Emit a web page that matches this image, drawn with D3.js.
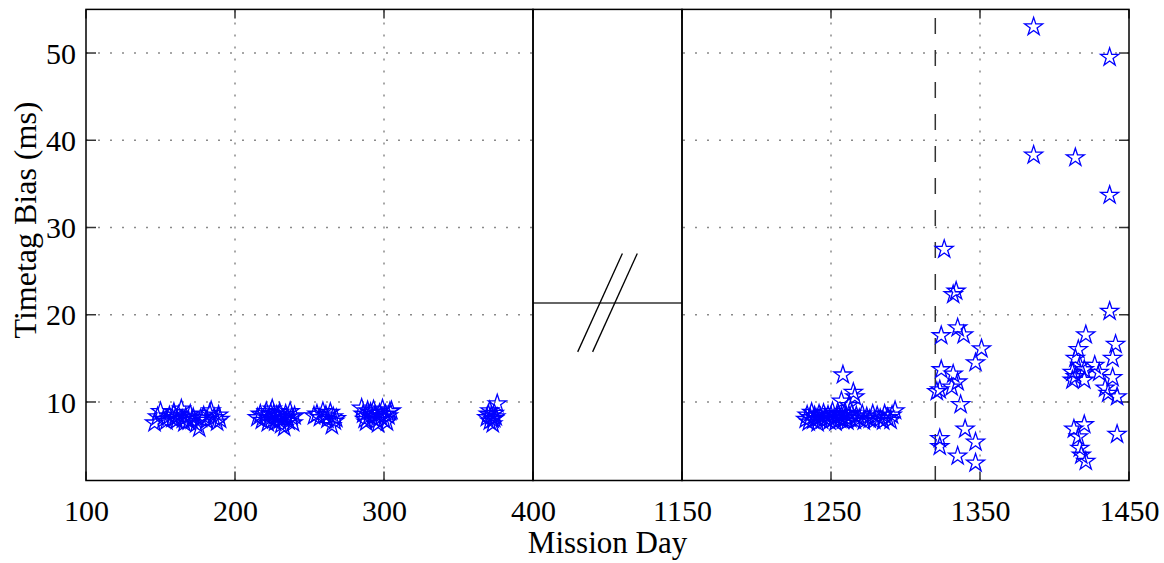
<!DOCTYPE html>
<html>
<head>
<meta charset="utf-8">
<script src="https://cdn.jsdelivr.net/npm/d3@7"></script>
<style>
  html, body { margin: 0; padding: 0; background: #fff; }
  svg text { font-family: "Liberation Serif", "Times New Roman", serif; fill: #000; }
</style>
</head>
<body>
<svg id="chart" width="1164" height="563"></svg>
<script>
// ---- data: [mission day, timetag bias (ms)] ----
const earlyDays = [
  [146,7.6],[148,8.3],[150,8.9],[152,8.0],[154,7.8],[156,8.4],[158,8.1],[159,8.8],[161,7.9],[162,8.5],
  [164,9.2],[165,8.0],[167,8.3],[169,7.8],[170,8.6],[172,8.2],[174,7.5],[176,7.0],[177,8.1],[179,8.4],
  [181,7.9],[183,8.7],[184,9.0],[186,8.2],[188,7.7],[190,8.0],[189,8.5],[171,7.9],[160,8.2],[166,7.6],
  [215,8.2],[217,8.6],[218,7.9],[220,8.4],[221,8.9],[222,7.6],[223,8.1],[224,8.7],[225,9.2],[226,8.0],
  [227,7.7],[228,8.5],[229,8.3],[230,8.8],[231,7.4],[232,8.1],[233,7.1],[234,8.6],[235,8.2],[236,7.8],
  [237,8.9],[238,8.3],[239,7.6],[240,8.4],[230,7.9],[226,8.6],
  [253,8.4],[255,8.6],[257,8.2],[259,8.9],[261,8.5],[262,8.0],[264,8.8],[265,7.3],[266,8.3],[267,7.8],[268,8.1],
  [285,9.3],[286,8.6],[287,8.0],[288,7.7],[289,9.0],[290,8.4],[291,8.8],[292,8.2],[293,9.1],[294,8.5],
  [295,7.9],[296,7.5],[297,8.7],[298,8.3],[299,9.2],[300,8.0],[301,8.6],[302,7.7],[303,8.4],[304,8.9],[305,9.0],
  [369,8.2],[370,8.6],[371,7.8],[372,8.4],[373,8.0],[374,8.7],[375,8.3],[371,9.0],[373,7.5],[376,9.8],[374,8.1]
];

const lateDays = [
  [1233,8.0],[1234,8.5],[1235,7.7],[1236,8.2],[1237,8.8],[1238,7.9],[1239,8.4],[1240,8.1],[1241,7.6],[1242,8.6],
  [1243,8.3],[1244,7.9],[1245,8.7],[1246,8.2],[1247,8.0],[1248,8.5],[1249,7.8],[1250,8.4],[1251,8.9],[1252,8.1],
  [1253,7.7],[1254,8.3],[1255,8.6],[1256,8.0],[1257,8.4],[1258,7.9],[1259,8.7],[1260,8.2],[1261,7.8],[1262,8.5],
  [1263,8.1],[1264,8.7],[1266,7.9],[1267,8.4],[1269,8.1],[1271,8.6],[1272,7.8],[1274,8.3],[1276,8.0],[1278,8.6],
  [1279,7.9],[1281,8.4],[1283,8.1],[1285,7.8],[1286,8.6],[1288,8.2],[1290,7.9],[1291,8.5],[1293,9.0],
  [1258,13.1],[1265,11.1],[1266,10.6],[1257,10.1],[1262,9.6],
  [1321,11.2],[1323,11.4],[1331,11.7],[1337,9.7],[1323,5.8],[1323,4.9],[1340,6.9],[1347,5.4],[1335,3.8],[1347,3.0],
  [1326,27.5],[1332,22.3],[1334,22.7],[1324,17.6],[1335,18.5],[1339,17.7],[1351,16.1],[1347,14.5],[1324,13.7],
  [1332,13.2],[1335,12.3],
  [1386,53.0],[1386,38.3],[1414,38.0],[1437,49.5],[1437,33.7],[1437,20.4],
  [1421,17.7],[1441,16.6],[1416,16.0],[1439,15.0],[1414,15.0],[1417,14.2],[1412,13.4],[1420,13.7],[1427,14.2],
  [1430,13.4],[1439,12.8],[1414,12.9],[1412,12.5],[1420,12.5],[1434,11.6],[1436,11.0],[1442,10.6],
  [1413,6.9],[1420,7.4],[1416,6.0],[1417,4.7],[1418,3.9],[1421,3.2],[1442,6.3]
];

const eventDay = 1320;                 // dashed marker
const leftTicks = [100, 200, 300, 400];
const rightTicks = [1150, 1250, 1350, 1450];
const yTicks = [10, 20, 30, 40, 50];
const yDomain = [1, 55];

// ---- layout ----
const svg = d3.select("#chart");
const plotTop = 9.4, plotBottom = 480.5;
const leftRange = [86, 533], midRange = [533, 682], rightRange = [682, 1129];

const xL = d3.scaleLinear().domain([100, 400]).range(leftRange);
const xR = d3.scaleLinear().domain([1150, 1450]).range(rightRange);
const xM = d3.scaleLinear().domain([0, 1]).range(midRange);
const y = d3.scaleLinear().domain(yDomain).range([plotBottom, plotTop]);
const yM = d3.scaleLinear().domain([0, 1]).range([plotBottom, plotTop]);

const gridStyle = g => g.attr("stroke", "#8a8a8a").attr("stroke-width", 1.5)
  .attr("stroke-dasharray", "2,10").attr("fill", "none");

function panel(x, xTicks, ySide) {
  const [x0, x1] = x.range();
  const g = svg.append("g");
  // grid
  const grid = g.append("g");
  xTicks.filter(t => t !== x.domain()[0] && t !== x.domain()[1]).forEach(t => {
    grid.append("line").attr("x1", x(t)).attr("x2", x(t)).attr("y1", plotBottom).attr("y2", plotTop).call(gridStyle);
  });
  yTicks.forEach(t => {
    const sx = ySide === "left" ? x0 : x1, ex = ySide === "left" ? x1 : x0;
    grid.append("line").attr("x1", sx).attr("x2", ex).attr("y1", y(t)).attr("y2", y(t)).call(gridStyle);
  });
  // inner tick marks
  const ticks = g.append("g").attr("stroke", "#333").attr("stroke-width", 1.5);
  xTicks.forEach(t => {
    ticks.append("line").attr("x1", x(t)).attr("x2", x(t)).attr("y1", plotBottom).attr("y2", plotBottom - 9);
    ticks.append("line").attr("x1", x(t)).attr("x2", x(t)).attr("y1", plotTop).attr("y2", plotTop + 9);
  });
  yTicks.forEach(t => {
    const ex = ySide === "left" ? x0 : x1, dir = ySide === "left" ? 1 : -1;
    ticks.append("line").attr("x1", ex).attr("x2", ex + dir * 10).attr("y1", y(t)).attr("y2", y(t));
  });
  // x tick labels via d3 axis
  const ax = d3.axisBottom(x).tickValues(xTicks).tickSize(0).tickPadding(0).tickFormat(d3.format("d"));
  const axg = g.append("g").attr("transform", `translate(0,${plotBottom})`).call(ax);
  axg.select(".domain").remove();
  axg.selectAll("text").attr("font-size", 30).attr("y", 40).attr("dy", 0)
    .style("font-family", '"Liberation Serif", serif').attr("fill", "#000");
  return g;
}

const gL = panel(xL, leftTicks, "left");
const gR = panel(xR, rightTicks, "right");

// y tick labels on the left panel
const ay = d3.axisLeft(y).tickValues(yTicks).tickSize(0).tickPadding(0).tickFormat(d3.format("d"));
const ayg = svg.append("g").attr("transform", `translate(${leftRange[0] - 10},0)`).call(ay);
ayg.select(".domain").remove();
ayg.selectAll("text").attr("font-size", 30).attr("dy", "0.34em")
  .style("font-family", '"Liberation Serif", serif').attr("fill", "#000");

// dashed event marker
gR.append("line")
  .attr("x1", xR(eventDay)).attr("x2", xR(eventDay))
  .attr("y1", plotTop).attr("y2", plotBottom)
  .attr("stroke", "#333").attr("stroke-width", 1.5)
  .attr("stroke-dasharray", "16,16").attr("stroke-dashoffset", 23.4);

// star markers
const star = d3.symbol().type(d3.symbolStar).size(101);
function stars(g, x, data) {
  g.append("g").selectAll("path").data(data).join("path")
    .attr("d", star)
    .attr("transform", d => `translate(${x(d[0])},${y(d[1])})`)
    .attr("fill", "none").attr("stroke", "#0000ff").attr("stroke-width", 1.3)
    .attr("stroke-linejoin", "miter");
}
stars(gL, xL, earlyDays);
stars(gR, xR, lateDays);

// axis break panel
const gM = svg.append("g").attr("stroke", "#000").attr("stroke-width", 1.5).attr("fill", "none");
gM.append("line").attr("x1", xM(0)).attr("x2", xM(1)).attr("y1", yM(0.377)).attr("y2", yM(0.377)).attr("stroke", "#333");
[[0.30, 0.60], [0.40, 0.70]].forEach(([a, b]) => {
  gM.append("line").attr("x1", xM(a)).attr("y1", yM(0.273)).attr("x2", xM(b)).attr("y2", yM(0.482)).attr("stroke-width", 1.3);
});

// panel frames
[leftRange, midRange, rightRange].forEach(([a, b]) => {
  svg.append("rect").attr("x", a).attr("y", plotTop).attr("width", b - a).attr("height", plotBottom - plotTop)
    .attr("fill", "none").attr("stroke", "#000").attr("stroke-width", 1.5);
});

// axis titles
svg.append("text").attr("x", (leftRange[0] + rightRange[1]) / 2).attr("y", 553)
  .attr("text-anchor", "middle").attr("font-size", 31).text("Mission Day");
svg.append("text").attr("transform", `translate(36,220) rotate(-90)`)
  .attr("text-anchor", "middle").attr("font-size", 32).text("Timetag Bias (ms)");
</script>
</body>
</html>
